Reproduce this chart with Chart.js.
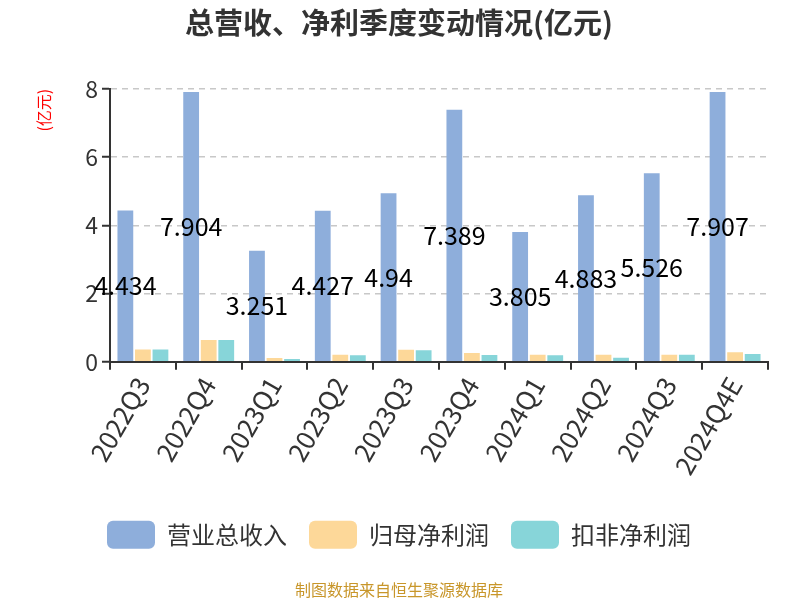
<!DOCTYPE html>
<html>
<head>
<meta charset="utf-8">
<script src="https://cdn.jsdelivr.net/npm/chart.js@4"></script>
<style>
  html, body { margin: 0; padding: 0; background: #fff; }
  #wrap { width: 800px; height: 600px; }
</style>
</head>
<body>
<div id="wrap"><canvas id="chart1"></canvas></div>
<script>
const quarters = ['2022Q3', '2022Q4', '2023Q1', '2023Q2', '2023Q3', '2023Q4', '2024Q1', '2024Q2', '2024Q3', '2024Q4E'];
const revenue = [4.434, 7.904, 3.251, 4.427, 4.94, 7.389, 3.805, 4.883, 5.526, 7.907];
const netProfit = [0.36, 0.64, 0.11, 0.21, 0.35, 0.26, 0.21, 0.21, 0.21, 0.28];
const netProfitExcl = [0.36, 0.64, 0.08, 0.19, 0.34, 0.20, 0.19, 0.12, 0.21, 0.23];
const yTicks = [0, 2, 4, 6, 8];

const FONT = "'Noto Sans CJK SC', 'Noto Sans', sans-serif";

// labels in the middle of the revenue bars
const barLabels = {
  id: 'barLabels',
  afterDatasetsDraw(chart) {
    const ctx = chart.ctx;
    const meta = chart.getDatasetMeta(0);
    ctx.save();
    ctx.font = '25px ' + FONT;
    ctx.fillStyle = '#000';
    ctx.textAlign = 'center';
    ctx.textBaseline = 'middle';
    meta.data.forEach((bar, i) => {
      const y = (bar.y + bar.base) / 2;
      ctx.fillText(String(revenue[i]), bar.x, y);
    });
    ctx.restore();
  }
};

document.addEventListener('DOMContentLoaded', () => {
  createChart1();
});

const createChart1 = () => {
  const ctx = document.getElementById('chart1').getContext('2d');

  const data = {
    labels: quarters,
    datasets: [{
      label: '营业总收入',
      data: revenue,
      backgroundColor: '#8eaedb',
    }, {
      label: '归母净利润',
      data: netProfit,
      backgroundColor: '#fdd899',
    }, {
      label: '扣非净利润',
      data: netProfitExcl,
      backgroundColor: '#87d5d9',
    }]
  };

  const config = {
    type: 'bar',
    data: data,
    plugins: [barLabels],
    options: {
      responsive: true,
      maintainAspectRatio: false,
      animation: false,
      categoryPercentage: 0.8,
      barPercentage: 0.9,
      layout: {
        padding: { left: 30, right: 32, top: 0, bottom: 0 }
      },
      plugins: {
        title: {
          display: true,
          text: '总营收、净利季度变动情况(亿元)',
          color: '#333',
          font: { family: FONT, size: 29, weight: 'bold' },
          padding: { top: 6, bottom: 48 }
        },
        subtitle: {
          display: true,
          position: 'bottom',
          text: '制图数据来自恒生聚源数据库',
          color: '#c8962a',
          font: { family: FONT, size: 16 },
          padding: { top: 22, bottom: 0 }
        },
        legend: {
          position: 'bottom',
          labels: {
            color: '#333',
            font: { family: FONT, size: 24 },
            boxWidth: 48,
            boxHeight: 28,
            useBorderRadius: true,
            borderRadius: 6,
            padding: 22
          }
        },
        tooltip: { enabled: false }
      },
      scales: {
        x: {
          afterFit: (axis) => { axis.height = 137; },
          grid: {
            display: true,
            drawOnChartArea: false,
            drawTicks: true,
            tickLength: 8,
            color: '#333',
            lineWidth: 2
          },
          border: { color: '#333', width: 2 },
          ticks: {
            color: '#333',
            font: { family: FONT, size: 26 },
            maxRotation: 60,
            minRotation: 60,
            padding: 2
          }
        },
        y: {
          min: 0,
          max: 8,
          afterFit: (axis) => { axis.width = 80; },
          afterBuildTicks: (axis) => {
            axis.ticks = yTicks.map(v => ({ value: v }));
          },
          grid: {
            color: '#c8c8c8',
            lineWidth: 1.5,
            tickLength: 8,
            tickColor: '#333',
            tickWidth: 2
          },
          border: { color: '#333', width: 2, dash: [6, 5] },
          ticks: {
            color: '#333',
            font: { family: FONT, size: 23 },
            padding: 4
          },
          title: {
            display: true,
            text: '(亿元)',
            align: 'end',
            color: '#ff0000',
            font: { family: FONT, size: 16 },
            padding: { bottom: 6 }
          }
        }
      }
    }
  };

  const newChart = new Chart(ctx, config);
};
</script>
</body>
</html>
